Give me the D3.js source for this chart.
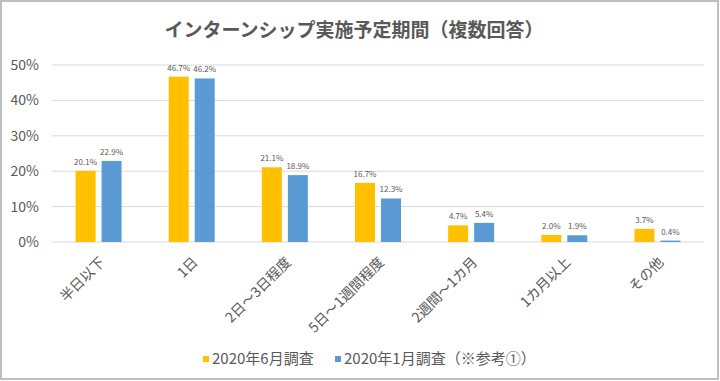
<!DOCTYPE html>
<html>
<head>
<meta charset="utf-8">
<script src="https://cdn.jsdelivr.net/npm/d3@7"></script>
<style>
  body { margin: 0; background: #fff; }
  svg text { font-family: "Noto Sans CJK JP", "Noto Sans", sans-serif; fill: #595959; }
</style>
</head>
<body>
<div id="content"></div>
<script>
const categories = ["半日以下", "1日", "2日～3日程度", "5日～1週間程度", "2週間～1カ月", "1カ月以上", "その他"];
const seriesNames = ["2020年6月調査", "2020年1月調査（※参考①）"];
const june = [20.1, 46.7, 21.1, 16.7, 4.7, 2.0, 3.7];
const january = [22.9, 46.2, 18.9, 12.3, 5.4, 1.9, 0.4];
const yTicks = [0, 10, 20, 30, 40, 50];
const colors = ["#FFC000", "#5B9BD5"];

const width = 720, height = 381;
const margin = { left: 52, right: 16, top: 65, bottom: 139 };

var svg = d3.select("#content")
    .append("svg")
    .attr("width", width)
    .attr("height", height);

svg.append("rect")
    .attr("x", 1).attr("y", 1)
    .attr("width", width - 3).attr("height", height - 3)
    .attr("fill", "#fff")
    .attr("stroke", "#bfbfbf")
    .attr("stroke-width", 2);

svg.append("text")
    .attr("x", 354)
    .attr("y", 37)
    .attr("text-anchor", "middle")
    .style("font-size", "19px")
    .style("font-weight", "bold")
    .text("インターンシップ実施予定期間（複数回答）");

const x = d3.scaleBand()
    .domain(categories)
    .range([margin.left, width - margin.right]);

const y = d3.scaleLinear()
    .domain([0, 50])
    .range([height - margin.bottom, margin.top]);

// gridlines
svg.append("g")
    .selectAll("line")
    .data(yTicks)
    .enter()
    .append("line")
    .attr("x1", margin.left)
    .attr("x2", width - margin.right)
    .attr("y1", d => y(d))
    .attr("y2", d => y(d))
    .attr("stroke", "#d9d9d9")
    .attr("stroke-width", 1);

svg.append("g")
    .selectAll("text")
    .data(yTicks)
    .enter()
    .append("text")
    .attr("x", 39)
    .attr("y", d => y(d) + 5)
    .attr("text-anchor", "end")
    .style("font-size", "14px")
    .text(d => d + "%");

const barW = 20, gap = 6;
const series = [june, january];

series.forEach(function (vals, s) {
    const offset = s === 0 ? -(barW + gap / 2) : gap / 2;
    let g = svg.append("g");
    g.selectAll("rect")
        .data(vals)
        .enter()
        .append("rect")
        .attr("x", (d, i) => x(categories[i]) + x.bandwidth() / 2 + offset)
        .attr("y", d => y(d))
        .attr("width", barW)
        .attr("height", d => y(0) - y(d))
        .attr("fill", colors[s]);
    g.selectAll("text")
        .data(vals)
        .enter()
        .append("text")
        .attr("x", (d, i) => x(categories[i]) + x.bandwidth() / 2 + offset + barW / 2)
        .attr("y", d => y(d) - 6)
        .attr("text-anchor", "middle")
        .style("font-size", "8px")
        .text(d => d.toFixed(1) + "%");
});

// category labels
svg.append("g")
    .selectAll("text")
    .data(categories)
    .enter()
    .append("text")
    .attr("text-anchor", "end")
    .attr("transform", d => "translate(" + (x(d) + x.bandwidth() / 2 + 7) + "," + (y(0) + 21) + ")rotate(-45)")
    .style("font-size", "14px")
    .text(d => d);

// legend
const legendX = [203, 335];
seriesNames.forEach(function (name, i) {
    svg.append("rect")
        .attr("x", legendX[i])
        .attr("y", 356)
        .attr("width", 6)
        .attr("height", 6)
        .attr("fill", colors[i]);
    svg.append("text")
        .attr("x", legendX[i] + 9)
        .attr("y", 364)
        .style("font-size", "15px")
        .text(name);
});
</script>
</body>
</html>
